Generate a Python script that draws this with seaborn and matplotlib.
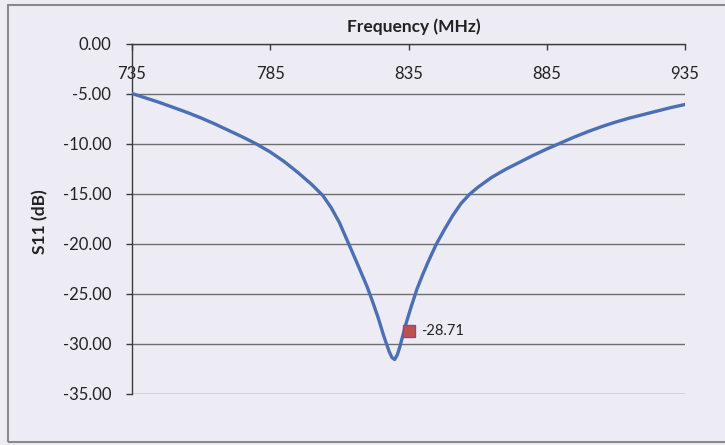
import matplotlib
matplotlib.use("Agg")
import matplotlib.pyplot as plt
from matplotlib.patches import Rectangle
import seaborn as sns
import pandas as pd

# ---- data ----
freq_mhz = [735, 740, 745, 750, 755, 760, 765, 770, 775, 780, 785, 790, 795,
            800, 804, 807, 810, 813, 816, 818, 820, 822, 824, 826, 828, 829,
            830, 831, 832, 834, 836, 838, 840, 842, 845, 848, 851, 854, 857,
            860, 865, 870, 875, 880, 885, 890, 895, 900, 905, 910, 915, 920,
            925, 930, 935]
s11_db = [-5.0, -5.45, -5.9, -6.4, -6.9, -7.45, -8.05, -8.7, -9.35, -10.05,
          -10.85, -11.8, -12.9, -14.1, -15.2, -16.4, -17.9, -19.8, -21.7,
          -23.0, -24.3, -25.8, -27.4, -29.2, -30.8, -31.4, -31.6, -31.1,
          -30.2, -28.1, -26.3, -24.6, -23.2, -21.9, -20.1, -18.6, -17.2,
          -16.0, -15.1, -14.4, -13.4, -12.6, -11.9, -11.2, -10.55, -9.95,
          -9.35, -8.8, -8.3, -7.85, -7.45, -7.1, -6.75, -6.4, -6.1]
marker_freq = [835]
marker_val = [-28.71]
x_ticks = [735, 785, 835, 885, 935]
y_ticks = [0, -5, -10, -15, -20, -25, -30, -35]
x_title = "Frequency (MHz)"
y_title = "S11 (dB)"

df = pd.DataFrame({"freq": freq_mhz, "s11": s11_db})

sns.set_theme(style="white")
plt.rcParams["font.family"] = ["Lato", "DejaVu Sans"]

bg = "#edecf5"
fig = plt.figure(figsize=(7.25, 4.45), dpi=100, facecolor=bg)
ax = fig.add_axes([132 / 725, 1 - 393.5 / 445, (685 - 132) / 725, (393.5 - 43.5) / 445])
ax.set_facecolor(bg)

# outer chart frame
fig.patches.append(Rectangle((8 / 725, 3 / 445), 1.0, 437 / 445,
                             transform=fig.transFigure, fill=False,
                             edgecolor="#8a8a8a", linewidth=1.5, zorder=0))

sns.lineplot(data=df, x="freq", y="s11", ax=ax, color="#4b6fb4",
             linewidth=2.4, zorder=3)
ax.plot(marker_freq, marker_val, marker="s", markersize=8, linestyle="none",
        markerfacecolor="#c0504d", markeredgecolor="#8a4a8a",
        markeredgewidth=1.0, zorder=4)
for fx, fy in zip(marker_freq, marker_val):
    ax.annotate(f"{fy:.2f}", (fx, fy), xytext=(9, 0), textcoords="offset points",
                ha="left", va="center", fontsize=10.5, color="#222222")

ax.set_xlim(735, 935)
ax.set_ylim(-35, 0)
ax.set_xticks(x_ticks)
ax.set_yticks(y_ticks)
ax.yaxis.set_major_formatter(matplotlib.ticker.FormatStrFormatter("%.2f"))

ax.grid(axis="y", color="#6e6e6e", linewidth=1.0)
ax.grid(axis="x", visible=False)
ax.set_axisbelow(True)

for side in ["right", "bottom"]:
    ax.spines[side].set_visible(False)
for side in ["left", "top"]:
    ax.spines[side].set_color("#3a3a3a")
    ax.spines[side].set_linewidth(1.0)
    ax.spines[side].set_zorder(2)

ax.tick_params(axis="x", top=True, bottom=False, labeltop=True,
               labelbottom=False, direction="in", length=4, width=1,
               color="#3a3a3a", pad=-28, labelsize=12, labelcolor="#222222")
ax.tick_params(axis="y", left=True, direction="out", length=4, width=1,
               color="#3a3a3a", pad=11, labelsize=12, labelcolor="#222222")

ax.set_xlabel("")
ax.set_ylabel(y_title, fontsize=12.5, fontweight="bold", color="#222222")
ax.yaxis.set_label_coords(-0.152, 0.49)
fig.text((132 + 696) / 2 / 725, 1 - 27 / 445, x_title, ha="center",
         va="center", fontsize=12.5, fontweight="bold", color="#222222")

fig.savefig("out.png", dpi=100, facecolor=bg)
